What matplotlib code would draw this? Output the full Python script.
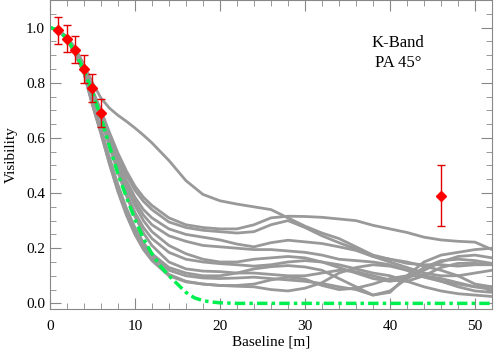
import matplotlib
matplotlib.use("Agg")
import matplotlib.pyplot as plt
from matplotlib.ticker import MultipleLocator

# measured visibilities
obs_x = [1, 2, 3, 4, 5, 6, 46]
obs_v = [0.99, 0.96, 0.92, 0.85, 0.78, 0.69, 0.39]
obs_err = [0.05, 0.05, 0.05, 0.05, 0.05, 0.05, 0.11]

# reference (green) curve
green_x = [0, 1, 2, 3, 4, 5, 6, 7, 8, 9, 10, 11, 12, 13, 14, 15, 16, 17, 18,
           19, 20, 22, 25, 52]
green_v = [1.0, 0.99, 0.96, 0.91, 0.845, 0.765, 0.675, 0.57, 0.47, 0.385,
           0.305, 0.235, 0.18, 0.135, 0.10, 0.07, 0.04, 0.02, 0.01, 0.005,
           0.002, 0.0, 0.0, 0.0]

# model curves (gray)
model_x = [0, 1, 2, 3, 4, 5, 6, 7, 8, 9, 10, 11, 12, 14, 16, 18, 20, 22, 24,
           26, 28, 30, 32, 34, 36, 38, 40, 42, 44, 46, 48, 50, 52]
g1 = [1.0, 0.99, 0.965, 0.922, 0.865, 0.80, 0.745, 0.708, 0.682, 0.66, 0.636,
      0.61, 0.582, 0.518, 0.445, 0.395, 0.372, 0.36, 0.35, 0.34, 0.31, 0.28,
      0.255, 0.235, 0.205, 0.175, 0.16, 0.145, 0.14, 0.14, 0.135, 0.14, 0.14]
g2 = [1.0, 0.99, 0.965, 0.925, 0.865, 0.775, 0.70, 0.62, 0.545, 0.48, 0.425,
      0.385, 0.355, 0.31, 0.285, 0.275, 0.27, 0.27, 0.285, 0.31, 0.316,
      0.315, 0.312, 0.306, 0.30, 0.283, 0.27, 0.257, 0.24, 0.23, 0.225,
      0.222, 0.195]
g3 = [1.0, 0.99, 0.965, 0.92, 0.86, 0.77, 0.695, 0.615, 0.535, 0.465, 0.41,
      0.37, 0.34, 0.295, 0.275, 0.265, 0.26, 0.255, 0.26, 0.285, 0.30, 0.275,
      0.245, 0.22, 0.197, 0.17, 0.15, 0.13, 0.11, 0.10, 0.10, 0.11, 0.12]
g4 = [1.0, 0.99, 0.962, 0.918, 0.857, 0.765, 0.69, 0.605, 0.52, 0.445, 0.385,
      0.34, 0.31, 0.27, 0.25, 0.24, 0.23, 0.215, 0.205, 0.22, 0.229, 0.223,
      0.217, 0.205, 0.192, 0.17, 0.16, 0.15, 0.135, 0.12, 0.10, 0.07, 0.06]
g5 = [1.0, 0.99, 0.962, 0.917, 0.855, 0.765, 0.685, 0.60, 0.51, 0.435, 0.37,
      0.32, 0.285, 0.245, 0.225, 0.21, 0.205, 0.20, 0.195, 0.195, 0.19,
      0.185, 0.175, 0.16, 0.155, 0.15, 0.14, 0.12, 0.10, 0.08, 0.06, 0.045,
      0.04]
g6 = [1.0, 0.99, 0.958, 0.905, 0.84, 0.73, 0.635, 0.53, 0.43, 0.345, 0.275,
      0.22, 0.18, 0.13, 0.11, 0.10, 0.10, 0.11, 0.125, 0.133, 0.137, 0.132,
      0.12, 0.09, 0.06, 0.03, 0.04, 0.10, 0.15, 0.175, 0.185, 0.195, 0.20]
g7 = [1.0, 0.99, 0.958, 0.905, 0.838, 0.725, 0.625, 0.52, 0.42, 0.335, 0.265,
      0.21, 0.17, 0.12, 0.10, 0.092, 0.09, 0.092, 0.095, 0.09, 0.085, 0.08,
      0.072, 0.06, 0.05, 0.03, 0.045, 0.09, 0.13, 0.155, 0.16, 0.155, 0.145]
g8 = [1.0, 0.99, 0.957, 0.903, 0.836, 0.72, 0.62, 0.51, 0.41, 0.325, 0.255,
      0.20, 0.16, 0.105, 0.08, 0.07, 0.065, 0.065, 0.07, 0.085, 0.095, 0.088,
      0.065, 0.05, 0.055, 0.07, 0.09, 0.10, 0.10, 0.09, 0.075, 0.06, 0.05]
g9 = [1.0, 0.99, 0.957, 0.902, 0.835, 0.72, 0.615, 0.505, 0.405, 0.32, 0.25,
      0.195, 0.155, 0.10, 0.078, 0.07, 0.065, 0.062, 0.06, 0.05, 0.045,
      0.055, 0.075, 0.11, 0.13, 0.14, 0.135, 0.12, 0.095, 0.08, 0.07, 0.06,
      0.06]
g10 = [1.0, 0.99, 0.96, 0.912, 0.848, 0.755, 0.665, 0.57, 0.475, 0.39, 0.315,
       0.255, 0.21, 0.15, 0.125, 0.117, 0.115, 0.11, 0.11, 0.105, 0.10, 0.10,
       0.11, 0.12, 0.115, 0.10, 0.085, 0.08, 0.10, 0.13, 0.145, 0.145, 0.14]
g11 = [1.0, 0.99, 0.96, 0.914, 0.852, 0.76, 0.68, 0.59, 0.50, 0.42, 0.355,
       0.30, 0.26, 0.21, 0.18, 0.16, 0.15, 0.15, 0.16, 0.165, 0.17, 0.165,
       0.15, 0.13, 0.11, 0.09, 0.08, 0.09, 0.12, 0.15, 0.17, 0.175, 0.165]
g12 = [1.0, 0.99, 0.96, 0.913, 0.85, 0.76, 0.675, 0.58, 0.49, 0.40, 0.33,
       0.275, 0.235, 0.185, 0.16, 0.15, 0.144, 0.14, 0.135, 0.14, 0.15,
       0.155, 0.15, 0.14, 0.125, 0.11, 0.10, 0.08, 0.06, 0.045, 0.035, 0.03,
       0.025]
models = [g1, g2, g3, g4, g5, g6, g7, g8, g9, g10, g11, g12]

plt.rcParams["font.family"] = ["Liberation Serif", "DejaVu Serif"]

fig = plt.figure(figsize=(4.94, 3.51), dpi=100)
ax = fig.add_axes([0.101, 0.12, 0.895, 0.88])

for m in models:
    ax.plot(model_x, m, color="#999999", lw=2, solid_joinstyle="round")

ax.plot(green_x, green_v, color="#00f050", lw=2.5,
        linestyle=(0, (3, 1.2, 1, 1.2)))

ax.errorbar(obs_x, obs_v, yerr=obs_err, fmt="D", color="#ff0000",
            ecolor="#e00000", markersize=5, elinewidth=1, capsize=3,
            capthick=1, zorder=5)

ax.text(0.787, 0.828, "K-Band\nPA 45°", transform=ax.transAxes,
        ha="center", va="center", fontsize=12, linespacing=1.35)

ax.set_xlim(0, 52)
ax.set_ylim(-0.02, 1.10)
ax.xaxis.set_major_locator(MultipleLocator(10))
ax.xaxis.set_minor_locator(MultipleLocator(2))
ax.yaxis.set_major_locator(MultipleLocator(0.2))
ax.yaxis.set_minor_locator(MultipleLocator(0.05))
ax.yaxis.set_major_formatter(plt.FormatStrFormatter("%.1f"))

for s in ax.spines.values():
    s.set_color("#888888")
ax.tick_params(which="both", direction="in", top=True, right=True,
               color="#888888", labelsize=11)
ax.tick_params(which="major", length=8)
ax.tick_params(axis="x", which="major", pad=8)
ax.tick_params(which="minor", length=4)

ax.set_xlabel("Baseline [m]", fontsize=11, labelpad=2)
ax.set_ylabel("Visibility", fontsize=11, labelpad=6)

fig.savefig("out.png", dpi=100)
